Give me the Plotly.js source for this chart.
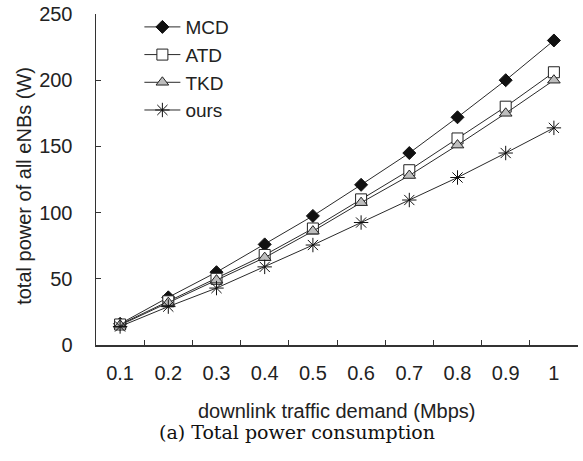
<!DOCTYPE html>
<html>
<head>
<meta charset="utf-8">
<script src="https://cdn.plot.ly/plotly-3.0.1.min.js"></script>
<style>html,body{margin:0;padding:0;background:#fff;}#chart{width:583px;height:461px;}</style>
</head>
<body>
<div id="chart"></div>
<script>
const categories = ["0.1","0.2","0.3","0.4","0.5","0.6","0.7","0.8","0.9","1"];
const mcd  = [16, 36, 55, 76, 97.5, 121, 145, 172, 200, 230];
const atd  = [15.5, 33, 50, 68, 88, 110, 132, 156, 180, 206];
const tkd  = [15, 32, 49, 66, 86, 107.5, 128, 151, 175, 200];
const ours = [14, 29, 43, 59, 75.5, 92.5, 109.5, 126.5, 145, 164];
const yTicks = [0, 50, 100, 150, 200, 250];

const lineStyle = {color: '#2a2a2a', width: 1};
const traces = [
  {name: 'MCD', y: mcd, marker: {symbol: 'diamond', size: 10, color: '#111', line: {color: '#111', width: 1}}},
  {name: 'ATD', y: atd, marker: {symbol: 'square', size: 11, color: '#fff', line: {color: '#222', width: 1}}},
  {name: 'TKD', y: tkd, marker: {symbol: 'triangle-up', size: 11, color: '#bdbdbd', line: {color: '#222', width: 1}}},
  {name: 'ours', y: ours, marker: {symbol: 'asterisk-open', size: 12, color: '#111', line: {color: '#111', width: 1}}}
].map((t, i) => Object.assign({
  type: 'scatter', mode: 'lines+markers', x: categories, line: lineStyle,
  legendgroup: 'g' + i
}, t));

const fam = 'Liberation Sans, Arial, sans-serif';
const fs = 20;
const layout = {
  width: 583, height: 461,
  margin: {l: 96, r: 5, t: 14, b: 116},
  paper_bgcolor: '#fff', plot_bgcolor: '#fff',
  font: {family: fam, size: fs, color: '#222'},
  showlegend: true,
  legend: {x: 0.09, y: 1.018, xanchor: 'left', yanchor: 'top', bgcolor: 'rgba(0,0,0,0)',
           font: {family: fam, size: 19, color: '#222'}, tracegroupgap: 0, itemwidth: 36},
  xaxis: {
    type: 'category', categoryorder: 'array', categoryarray: categories,
    showline: true, linecolor: '#333', linewidth: 1.5, mirror: false,
    showgrid: false, zeroline: false,
    ticks: 'inside', tickson: 'boundaries', ticklen: 5, tickcolor: '#333',
    ticklabelstandoff: 9,
    tickfont: {family: fam, size: fs, color: '#222'},
    range: [-0.5, 9.5]
  },
  yaxis: {
    range: [0, 250], tickvals: yTicks, ticktext: yTicks.map(String),
    showline: true, linecolor: '#333', linewidth: 1.5,
    showgrid: false, zeroline: false,
    ticks: 'inside', ticklen: 5, tickcolor: '#333',
    ticklabelstandoff: 18,
    tickfont: {family: fam, size: fs, color: '#222'}
  },
  annotations: [
    {text: 'downlink traffic demand (Mbps)', xref: 'paper', yref: 'paper', x: 0.5, y: -0.2,
     showarrow: false, font: {family: fam, size: fs, color: '#222'},
     xanchor: 'center', yanchor: 'middle'},
    {text: 'total power of all eNBs (W)', xref: 'paper', yref: 'paper', x: -0.15, y: 0.48,
     textangle: -90, showarrow: false, font: {family: fam, size: fs, color: '#222'},
     xanchor: 'center', yanchor: 'middle'},
    {text: '(a) Total power consumption', xref: 'paper', yref: 'paper', x: 0.416, y: -0.262,
     showarrow: false, font: {family: 'DejaVu Serif, serif', size: 19, color: '#111'},
     xanchor: 'center', yanchor: 'middle'}
  ]
};
Plotly.newPlot('chart', traces, layout, {displayModeBar: false, staticPlot: true});
</script>
</body>
</html>
